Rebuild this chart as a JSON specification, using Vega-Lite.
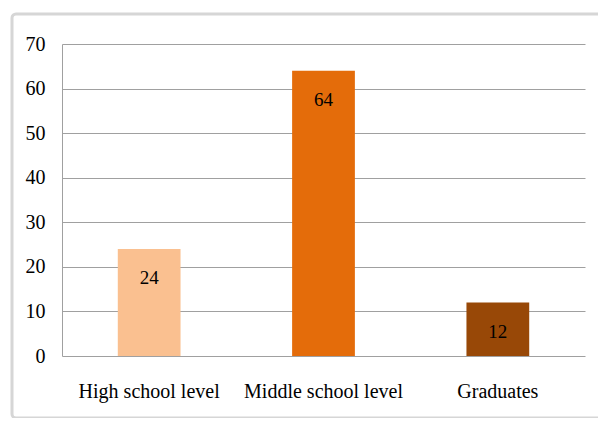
{
  "$schema": "https://vega.github.io/schema/vega-lite/v6.json",
  "autosize": {"type": "none"},
  "width": 590,
  "height": 404,
  "padding": {"left": 12, "top": 14, "right": 0, "bottom": 0},
  "background": "white",
  "data": {
    "values": [
      {"level": "High school level", "count": 24, "color": "#FAC090"},
      {"level": "Middle school level", "count": 64, "color": "#E46C0A"},
      {"level": "Graduates", "count": 12, "color": "#984807"}
    ]
  },
  "encoding": {
    "x": {
      "field": "level",
      "type": "nominal",
      "sort": null,
      "scale": {"range": [50, 573], "paddingInner": 0.64, "paddingOuter": 0.32},
      "axis": {
        "title": null,
        "offset": -62,
        "labelAngle": 0,
        "ticks": false,
        "domain": false,
        "grid": false,
        "labelFont": "'Liberation Serif', 'Times New Roman', serif",
        "labelFontSize": 20,
        "labelColor": "#000000",
        "labelBaseline": "alphabetic",
        "labelPadding": 41
      }
    },
    "y": {
      "field": "count",
      "type": "quantitative",
      "scale": {"domain": [0, 70], "range": [342, 30]},
      "axis": {
        "title": null,
        "offset": -50,
        "values": [0, 10, 20, 30, 40, 50, 60, 70],
        "ticks": false,
        "grid": true,
        "domainColor": "#A0A0A0",
        "gridColor": "#A0A0A0",
        "gridOpacity": 1,
        "labelFont": "'Liberation Serif', 'Times New Roman', serif",
        "labelFontSize": 20,
        "labelColor": "#000000",
        "labelPadding": 17
      }
    }
  },
  "layer": [
    {
      "mark": {"type": "bar"},
      "encoding": {
        "color": {"field": "color", "type": "nominal", "scale": null, "legend": null}
      }
    },
    {
      "mark": {
        "type": "text",
        "baseline": "middle",
        "dy": 29,
        "font": "'Liberation Serif', 'Times New Roman', serif",
        "fontSize": 19,
        "color": "#000000"
      },
      "encoding": {"text": {"field": "count", "type": "quantitative"}}
    }
  ],
  "config": {"view": {"stroke": "#D6D6D6", "strokeWidth": 3, "cornerRadius": 4}}
}
